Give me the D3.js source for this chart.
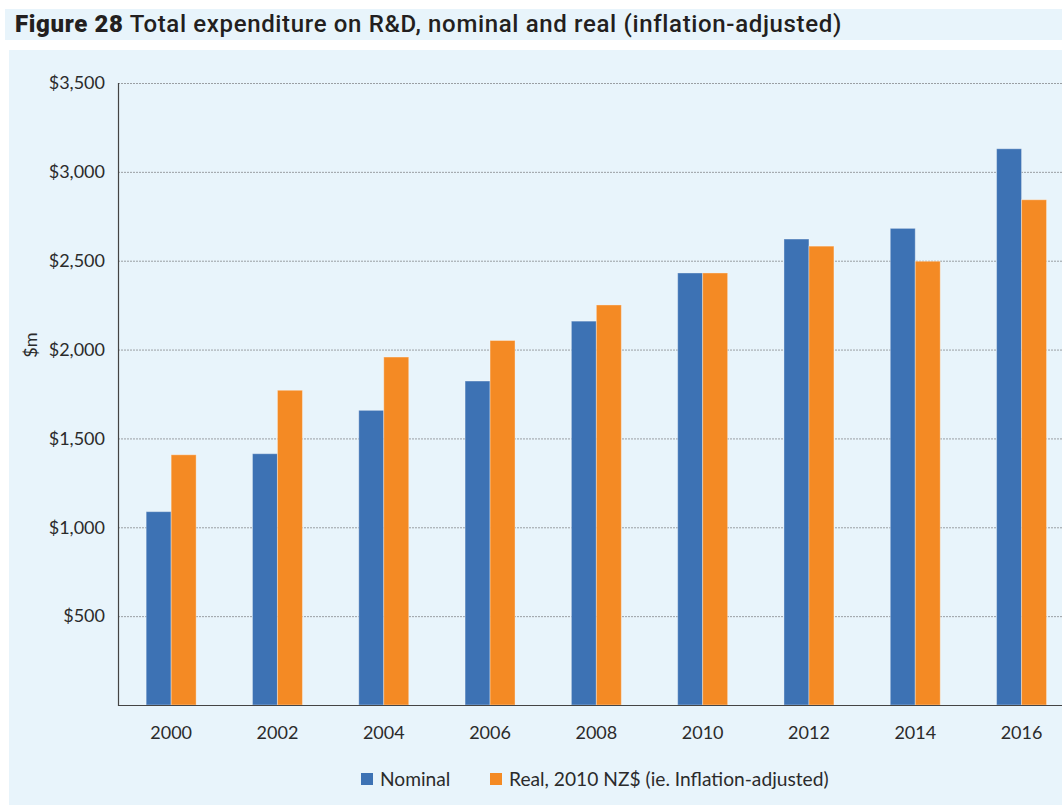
<!DOCTYPE html>
<html>
<head>
<meta charset="utf-8">
<script src="https://cdn.jsdelivr.net/npm/d3@7"></script>
<style>
  html, body { margin: 0; padding: 0; background: #ffffff; }
  svg { display: block; }
</style>
</head>
<body>
<svg id="chart" width="1062" height="805"></svg>
<script>
const categories = ["2000","2002","2004","2006","2008","2010","2012","2014","2016"];
const nominal = [1088, 1414, 1658, 1823, 2160, 2431, 2622, 2682, 3130];
const real    = [1408, 1771, 1958, 2051, 2251, 2431, 2582, 2497, 2843];
const seriesNames = ["Nominal", "Real, 2010 NZ$ (ie. Inflation-adjusted)"];
const seriesColors = ["#3D72B4", "#F48A24"];
const yTicks = [500, 1000, 1500, 2000, 2500, 3000, 3500];

(function () {
const svg = d3.select("#chart");
const W = 1062, H = 805;
const bg = "#E8F4FB";
const fontTick = "Lato, 'Open Sans', sans-serif";
const fs = 18;

// title band
svg.append("rect").attr("x", 5).attr("y", 9).attr("width", W - 5).attr("height", 31).attr("fill", bg);
const title = svg.append("text").attr("x", 15).attr("y", 32)
  .attr("font-family", "Roboto, 'Noto Sans', sans-serif")
  .attr("font-size", 24).attr("letter-spacing", 0.65).attr("fill", "#231f20");
title.append("tspan").attr("font-weight", "900").text("Figure 28");
title.append("tspan").attr("font-weight", "500").text(" Total expenditure on R&D, nominal and real (inflation-adjusted)");

// panel
svg.append("rect").attr("x", 9).attr("y", 50).attr("width", W - 9).attr("height", H - 50).attr("fill", bg);

const pLeft = 118, pTop = 83, pBottom = 705;
const x = d3.scaleBand().domain(categories).range([pLeft, pLeft + 9 * 106.3])
  .paddingInner(0.53).paddingOuter(0.265);
const xs = d3.scaleBand().domain([0, 1]).range([0, x.bandwidth()]);
const y = d3.scaleLinear().domain([0, 3500]).range([pBottom, pTop]);

// gridlines
svg.append("g").selectAll("line").data(yTicks).join("line")
  .attr("x1", pLeft).attr("x2", W)
  .attr("y1", d => y(d) + 0.5).attr("y2", d => y(d) + 0.5)
  .attr("stroke", "#9a9fa3").attr("stroke-width", 1).attr("stroke-dasharray", "2,1");

// bars
const data = categories.map((c, i) => ({ c, vals: [nominal[i], real[i]] }));
const groups = svg.append("g").selectAll("g").data(data).join("g")
  .attr("transform", d => `translate(${x(d.c)},0)`);
groups.selectAll("rect").data(d => d.vals.map((v, k) => ({ v, k }))).join("rect")
  .attr("x", d => xs(d.k))
  .attr("y", d => y(d.v))
  .attr("width", xs.bandwidth())
  .attr("height", d => pBottom - y(d.v))
  .attr("fill", d => seriesColors[d.k])
  .attr("stroke", "rgba(255,255,255,0.35)").attr("stroke-width", 1);

// axes lines
svg.append("line").attr("x1", pLeft + 0.5).attr("x2", pLeft + 0.5).attr("y1", pTop).attr("y2", pBottom + 1)
  .attr("stroke", "#444").attr("stroke-width", 1.2);
svg.append("line").attr("x1", pLeft).attr("x2", W).attr("y1", pBottom + 0.5).attr("y2", pBottom + 0.5)
  .attr("stroke", "#444").attr("stroke-width", 1.2);

// y tick labels
const yAxis = d3.axisLeft(y).tickValues(yTicks).tickSize(0).tickPadding(13)
  .tickFormat(d => "$" + d3.format(",")(d));
const gy = svg.append("g").attr("transform", `translate(${pLeft},0)`).call(yAxis);
gy.select(".domain").remove();
gy.selectAll("text").attr("font-family", fontTick).attr("font-size", fs).attr("fill", "#2b2b2b");

// x tick labels
const xAxis = d3.axisBottom(x).tickSize(0).tickPadding(21);
const gx = svg.append("g").attr("transform", `translate(0,${pBottom})`).call(xAxis);
gx.select(".domain").remove();
gx.selectAll("text").attr("font-family", fontTick).attr("font-size", fs).attr("fill", "#2b2b2b");

// y axis title
svg.append("text").attr("transform", "translate(37,345) rotate(-90)")
  .attr("text-anchor", "middle").attr("font-family", fontTick).attr("font-size", fs)
  .attr("fill", "#2b2b2b").text("$m");

// legend
const legendX = [361, 490];
const lg = svg.append("g").selectAll("g").data(seriesNames).join("g")
  .attr("transform", (d, i) => `translate(${legendX[i]},773)`);
lg.append("rect").attr("width", 12).attr("height", 12).attr("fill", (d, i) => seriesColors[i]);
lg.append("text").attr("x", 19).attr("y", 12.5).attr("font-family", fontTick).attr("font-size", 19.2)
  .attr("fill", "#2b2b2b").text(d => d);
})();
</script>
</body>
</html>
